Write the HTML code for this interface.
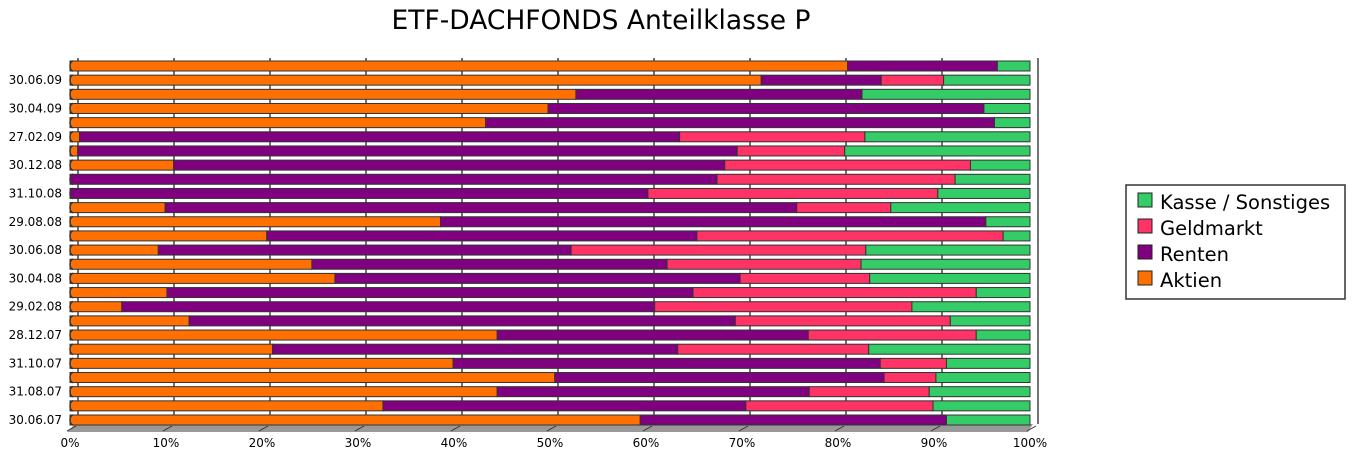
<!DOCTYPE html>
<html><head><meta charset="utf-8"><style>
html,body{margin:0;padding:0;background:#fff;width:1352px;height:456px;overflow:hidden}
svg{display:block;font-family:"DejaVu Sans","Liberation Sans",sans-serif}
</style></head><body>
<svg id="chart" width="1352" height="456">
<text x="601" y="29" font-size="26.5" text-anchor="middle" fill="#000">ETF-DACHFONDS Anteilklasse P</text>
<g id="grid"></g><g id="bars"></g><g id="axes"></g>
<g>
<rect x="1126" y="185" width="219" height="114" fill="#fff" stroke="#333" stroke-width="1.5"/>
<rect x="1138" y="193" width="14" height="14" fill="#33CC66" stroke="#222"/>
<text x="1160" y="209" font-size="19.5">Kasse / Sonstiges</text>
<rect x="1138" y="219" width="14" height="14" fill="#FF3366" stroke="#222"/>
<text x="1160" y="235" font-size="19.5">Geldmarkt</text>
<rect x="1138" y="245" width="14" height="14" fill="#800080" stroke="#222"/>
<text x="1160" y="261" font-size="19.5">Renten</text>
<rect x="1138" y="271" width="14" height="14" fill="#FF7000" stroke="#222"/>
<text x="1160" y="287" font-size="19.5">Aktien</text>
</g>
</svg>
<script>
const categories=["31.07.09","30.06.09","29.05.09","30.04.09","31.03.09","27.02.09","30.01.09","30.12.08","28.11.08","31.10.08","30.09.08","29.08.08","31.07.08","30.06.08","30.05.08","30.04.08","31.03.08","29.02.08","31.01.08","28.12.07","30.11.07","31.10.07","28.09.07","31.08.07","31.07.07","30.06.07"];
const showLabel=[false,true,false,true,false,true,false,true,false,true,false,true,false,true,false,true,false,true,false,true,false,true,false,true,false,true];
const aktien=[81,72,52.7,49.8,43.3,1,0.8,10.8,0,0,9.9,38.6,20.5,9.2,25.2,27.6,10.1,5.4,12.4,44.5,21.1,39.9,50.5,44.5,32.6,59.4];
const renten=[15.6,12.5,29.8,45.4,53,62.5,68.7,57.4,67.4,60.2,65.8,56.8,44.8,43,37,42.2,54.8,55.5,56.9,32.4,42.2,44.5,34.3,32.5,37.8,31.9];
const geldmarkt=[0,6.5,0,0,0,19.3,11.2,25.6,24.8,30.2,9.8,0,31.9,30.7,20.2,13.5,29.5,26.8,22.4,17.5,19.9,6.9,5.4,12.5,19.5,0];
const kasse=[3.4,9,17.5,4.8,3.7,17.2,19.3,6.2,7.8,9.6,14.5,4.6,2.8,17.1,17.6,16.7,5.6,12.3,8.3,5.6,16.8,8.7,9.8,10.5,10.1,8.7];
const xTicks=[0,10,20,30,40,50,60,70,80,90,100];
const series=[["aktien",aktien,"#FF7000"],["renten",renten,"#800080"],["geldmarkt",geldmarkt,"#FF3366"],["kasse",kasse,"#33CC66"]];
const NS="http://www.w3.org/2000/svg";
const X0=70,X1=1030,Y0=66,STEP=14.16,BH=10;
const x=v=>X0+v/100*(X1-X0);
const yc=i=>Y0+i*STEP;
function mk(tag,attrs,parent){const e=document.createElementNS(NS,tag);for(const k in attrs)e.setAttribute(k,attrs[k]);parent.appendChild(e);return e;}
const grid=document.getElementById('grid'),bars=document.getElementById('bars'),axes=document.getElementById('axes');
const floor=mk('polygon',{points:`67,432 1028,432 1033,424 75,424`,fill:'#999'},grid);


xTicks.forEach(t=>{
  const gx=x(t)+8;
  const l=mk('line',{x1:gx,y1:58,x2:gx,y2:424,stroke:'#444','stroke-width':1.5},grid);
  
  
  const d=mk('line',{x1:x(t)-3,y1:431,x2:gx-2,y2:426,stroke:'#333','stroke-width':1},grid);
  
  
  const tx=mk('text',{x:x(t),y:447,'font-size':12,'text-anchor':'middle',fill:'#000'},axes);
  tx.textContent=t+'%';
  
  
});
categories.forEach((c,i)=>{
  const cy=yc(i);
  let acc=0;
  series.forEach(([nm,vals,col])=>{
    const v=vals[i];
    if(v<=0)return;
    const r=mk('rect',{x:x(acc),y:cy-BH/2,width:x(acc+v)-x(acc),height:BH,fill:col,stroke:'#333','stroke-width':1},bars);
    
    
    acc+=v;
  });
  const cap=mk('path',{d:`M${X0+3},${cy-BH/2} A3,5 0 0 0 ${X0+3},${cy+BH/2}`,fill:'none',stroke:'#333','stroke-width':1.5},bars);
  
  
  if(showLabel[i]){
    const t=mk('text',{x:62,y:cy+4,'font-size':12,'text-anchor':'end',fill:'#000'},axes);
    t.textContent=c;
    
    
  }
});
</script>
</body></html>
